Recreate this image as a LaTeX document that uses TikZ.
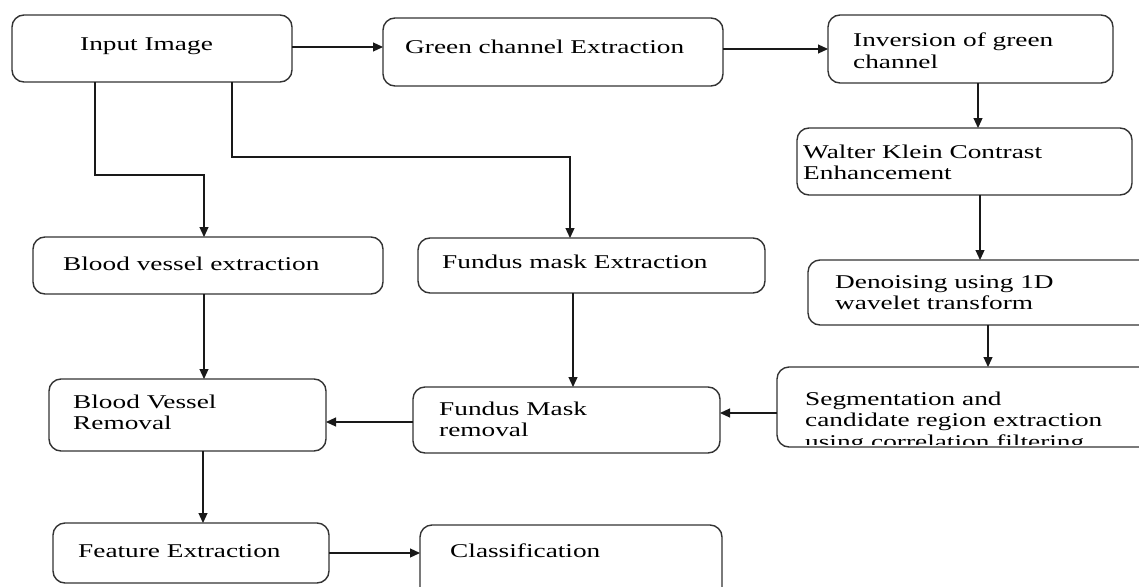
\documentclass[tikz,border=0pt]{standalone}
\usepackage{fontspec}
\setmainfont{Liberation Serif}[FakeStretch=1.4]
\usetikzlibrary{arrows.meta}
\begin{document}
\begin{tikzpicture}[x=1pt,y=-1pt,
  box/.style={draw=black!80, line width=1.4pt, rounded corners=12pt, inner sep=0pt, outer sep=0pt, anchor=north west},
  txt/.style={anchor=base west, inner sep=0pt, font=\fontsize{19.5}{21.5}\selectfont},
  arr/.style={draw=black!90, line width=1.2pt, -{Triangle[length=10pt,width=9pt]}}]
\clip (0,0) rectangle (1139,586);
\fill[white] (0,0) rectangle (1139,586);
% boxes
\node[box, minimum width=280pt, minimum height=67pt] (inp) at (12,15) {};
\node[box, minimum width=340pt, minimum height=68pt] (grn) at (383,18) {};
\node[box, minimum width=285pt, minimum height=68pt] (inv) at (828,15) {};
\node[box, minimum width=335pt, minimum height=67pt] (wk) at (797,128) {};
\node[box, minimum width=352pt, minimum height=65pt] (den) at (808,260) {};
\node[box, minimum width=350pt, minimum height=57pt] (bve) at (33,237) {};
\node[box, minimum width=347pt, minimum height=55pt] (fme) at (418,238) {};
\node[box, minimum width=383pt, minimum height=80pt] (seg) at (777,367) {};
\node[box, minimum width=277pt, minimum height=72pt] (bvr) at (49,379) {};
\node[box, minimum width=307pt, minimum height=66pt] (fmr) at (413,387) {};
\node[box, minimum width=276pt, minimum height=60pt] (fe) at (53,523) {};
\node[box, minimum width=302pt, minimum height=85pt] (cls) at (420,525) {};
% texts
\node[txt] (inp-t) at (80,50) {Input Image};
\node[txt] (grn-t) at (405,53) {Green channel Extraction};
\node[txt] (inv-t) at (853,47) {\begin{tabular}[t]{@{}l@{}}Inversion of green\\channel\end{tabular}};
\node[txt] (wk-t) at (803,158) {\begin{tabular}[t]{@{}l@{}}Walter Klein Contrast\\Enhancement\end{tabular}};
\node[txt] (den-t) at (835,288) {\begin{tabular}[t]{@{}l@{}}Denoising using 1D\\wavelet transform\end{tabular}};
\node[txt] (bve-t) at (63,270) {Blood vessel extraction};
\node[txt] (fme-t) at (442,268) {Fundus mask Extraction};
\begin{scope}
\clip (777,367) rectangle (1139,444);
\node[txt] (seg-t) at (805,405) {\begin{tabular}[t]{@{}l@{}}Segmentation and\\candidate region extraction\\using correlation filtering\end{tabular}};
\end{scope}
\node[txt] (bvr-t) at (73,408) {\begin{tabular}[t]{@{}l@{}}Blood Vessel\\Removal\end{tabular}};
\node[txt] (fmr-t) at (439,415) {\begin{tabular}[t]{@{}l@{}}Fundus Mask\\removal\end{tabular}};
\node[txt] (fe-t) at (78,557) {Feature Extraction};
\node[txt] (cls-t) at (450,557) {Classification};
% helper coordinates
\coordinate (ya) at (0,47);
\coordinate (xa) at (95,175);
\coordinate (xb) at (204,175);
\coordinate (xc) at (232,157);
\coordinate (xd) at (570,157);
\coordinate (x1) at (978,0);
\coordinate (x2) at (980,0);
\coordinate (x3) at (988,0);
\coordinate (x4) at (573,0);
\coordinate (x5) at (204,0);
\coordinate (x6) at (203,0);
\coordinate (y1) at (0,413);
\coordinate (y2) at (0,422);
\coordinate (y3) at (0,553);
% connectors
\draw[arr] (inp.east |- ya) -- (grn.west |- ya);
\draw[arr] (grn.east |- inv.west) -- (inv.west);
\draw[arr] (inv.south -| x1) -- (wk.north -| x1);
\draw[arr] (wk.south -| x2) -- (den.north -| x2);
\draw[arr] (den.south -| x3) -- (seg.north -| x3);
\draw[arr] (inp.south -| xa) -- (xa) -- (xb) -- (bve.north -| xb);
\draw[arr] (inp.south -| xc) -- (xc) -- (xd) -- (fme.north -| xd);
\draw[arr] (fme.south -| x4) -- (fmr.north -| x4);
\draw[arr] (seg.west |- y1) -- (fmr.east |- y1);
\draw[arr] (fmr.west |- y2) -- (bvr.east |- y2);
\draw[arr] (bve.south -| x5) -- (bvr.north -| x5);
\draw[arr] (bvr.south -| x6) -- (fe.north -| x6);
\draw[arr] (fe.east |- y3) -- (cls.west |- y3);
\end{tikzpicture}
\end{document}
